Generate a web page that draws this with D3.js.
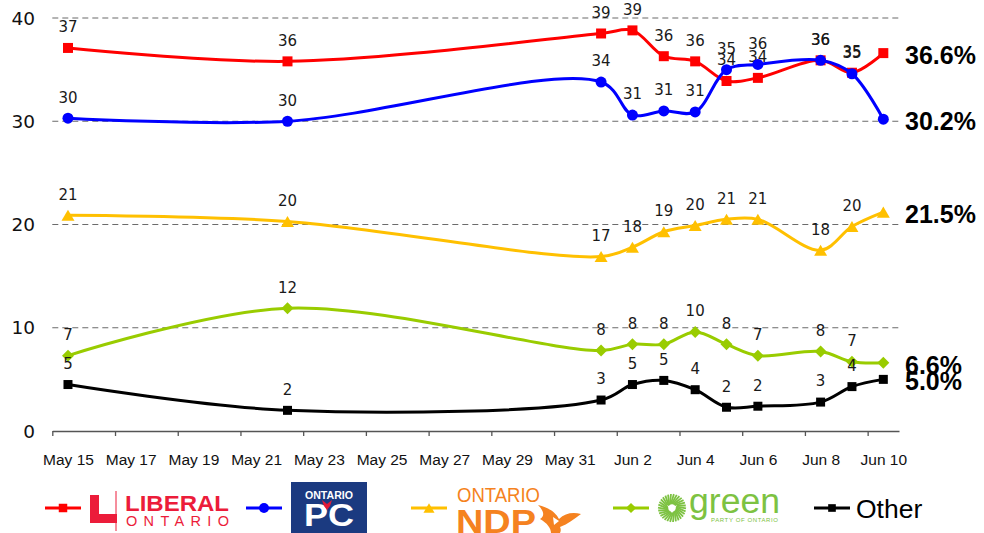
<!DOCTYPE html>
<html>
<head>
<meta charset="utf-8">
<script src="https://cdn.jsdelivr.net/npm/d3@7"></script>
<style>
  body { margin: 0; background: #fff; }
  svg { display: block; }
</style>
</head>
<body>
<svg id="chart" width="984" height="533"></svg>
<script>
// poll dates (2014 Ontario election)
let dates = ["2014-05-15", "2014-05-22", "2014-06-01", "2014-06-02", "2014-06-03", "2014-06-04",
             "2014-06-05", "2014-06-06", "2014-06-08", "2014-06-09", "2014-06-10"];

let liberal = [37.1, 35.8, 38.5, 38.8, 36.3, 35.8, 33.9, 34.2, 35.9, 34.7, 36.6];
let pc      = [30.3, 30.0, 33.8, 30.6, 31.0, 30.9, 35.0, 35.5, 35.9, 34.6, 30.2];
let ndp     = [20.9, 20.3, 16.9, 17.8, 19.3, 19.9, 20.5, 20.5, 17.5, 19.8, 21.2];
let green   = [7.3, 11.9, 7.8, 8.4, 8.4, 9.6, 8.4, 7.3, 7.7, 6.7, 6.6];
let other   = [4.5, 2.0, 3.0, 4.5, 4.9, 4.0, 2.3, 2.4, 2.8, 4.3, 5.0];

let endLabels = ["36.6%", "30.2%", "21.5%", "6.6%", "5.0%"];
let yTicks = [0, 10, 20, 30, 40];
let xTickDates = ["2014-05-15", "2014-05-17", "2014-05-19", "2014-05-21", "2014-05-23", "2014-05-25",
                  "2014-05-27", "2014-05-29", "2014-05-31", "2014-06-02", "2014-06-04", "2014-06-06",
                  "2014-06-08", "2014-06-10"];

let parse = d3.timeParse("%Y-%m-%d");
let fmt = d3.timeFormat("%b %-d");

let series = [
    {name: "liberal", values: liberal, color: "#FF0000", marker: "square", size: 10},
    {name: "pc", values: pc, color: "#0000FF", marker: "circle", size: 5.5},
    {name: "ndp", values: ndp, color: "#FFC000", marker: "triangle", size: 13},
    {name: "green", values: green, color: "#99CC00", marker: "diamond", size: 12},
    {name: "other", values: other, color: "#000000", marker: "square", size: 9}
];

let svg = d3.select("#chart");

let plotLeft = 52.3, plotRight = 899, plotTop = 18, plotBottom = 431;

let halfDay = 12 * 3600 * 1000;
let x = d3.scaleTime()
    .domain([new Date(parse("2014-05-15") - halfDay), new Date(+parse("2014-06-10") + halfDay)])
    .range([plotLeft, plotRight]);
let y = d3.scaleLinear().domain([0, 40]).range([plotBottom, plotTop]);

//gridlines
svg.append("g").selectAll("line")
    .data(yTicks.filter(d => d > 0)).enter()
    .append("line")
    .attr("x1", plotLeft).attr("x2", plotRight)
    .attr("y1", d => y(d)).attr("y2", d => y(d))
    .attr("stroke", "#6b6b6b")
    .attr("stroke-width", 1.2)
    .attr("stroke-dasharray", "6,4");

//y labels
svg.append("g").selectAll("text")
    .data(yTicks).enter()
    .append("text")
    .attr("x", 35)
    .attr("y", d => y(d))
    .attr("dy", "0.36em")
    .attr("text-anchor", "end")
    .attr("font-family", "DejaVu Sans, Verdana, sans-serif")
    .attr("font-size", 18.5)
    .attr("fill", "#111")
    .text(d => d);

//x axis: tick marks at day boundaries, labels at day centres
let tickBounds = xTickDates.map(d => new Date(parse(d) - halfDay));
let xAxisTicks = svg.append("g")
    .attr("transform", "translate(0," + plotBottom + ")")
    .call(d3.axisBottom(x).tickValues(tickBounds).tickSize(5).tickSizeOuter(0).tickFormat(""));
xAxisTicks.select(".domain").attr("stroke", "#555").attr("stroke-width", 1.3);
xAxisTicks.selectAll(".tick line").attr("stroke", "#555").attr("stroke-width", 1.3);

let xAxisLabels = svg.append("g")
    .attr("transform", "translate(0," + plotBottom + ")")
    .call(d3.axisBottom(x).tickValues(xTickDates.map(parse)).tickSize(0).tickPadding(23).tickFormat(fmt));
xAxisLabels.select(".domain").remove();
xAxisLabels.selectAll("text")
    .attr("font-family", "Liberation Sans, Arial, sans-serif")
    .attr("font-size", 15.5)
    .attr("fill", "#111");

//lines
let line = d3.line()
    .x(d => x(d.date))
    .y(d => y(d.value))
    .curve(d3.curveCatmullRom.alpha(0.5));

function markerPath(type, size) {
    if (type === "square") return "M" + (-size / 2) + "," + (-size / 2) + "h" + size + "v" + size + "h" + (-size) + "Z";
    if (type === "circle") return d3.symbol().type(d3.symbolCircle).size(Math.PI * size * size)();
    if (type === "triangle") {
        let h = size * 0.85;
        return "M0," + (-h / 2) + "L" + (size / 2) + "," + (h / 2) + "L" + (-size / 2) + "," + (h / 2) + "Z";
    }
    if (type === "diamond") return "M0," + (-size / 2) + "L" + (size / 2) + ",0L0," + (size / 2) + "L" + (-size / 2) + ",0Z";
}

series.forEach(function (s, i) {
    let pts = s.values.map((v, j) => ({date: parse(dates[j]), value: v}));
    let g = svg.append("g");
    g.append("path")
        .datum(pts)
        .attr("d", line)
        .attr("fill", "none")
        .attr("stroke", s.color)
        .attr("stroke-width", 3);
    g.selectAll(".mk")
        .data(pts).enter()
        .append("path")
        .attr("transform", d => "translate(" + x(d.date) + "," + y(d.value) + ")")
        .attr("d", markerPath(s.marker, s.size))
        .attr("fill", s.color);
    //data labels (not for the last point)
    g.selectAll(".lb")
        .data(pts.slice(0, pts.length - 1)).enter()
        .append("text")
        .attr("x", d => x(d.date))
        .attr("y", d => y(d.value) - 21)
        .attr("dy", "0.36em")
        .attr("text-anchor", "middle")
        .attr("font-family", "DejaVu Sans, Verdana, sans-serif")
        .attr("font-size", 15)
        .attr("fill", "#1a1a1a")
        .text(d => Math.round(d.value));
    //end label
    let last = pts[pts.length - 1];
    svg.append("text")
        .attr("x", 905)
        .attr("y", y(last.value) + 2)
        .attr("dy", "0.36em")
        .attr("font-family", "Liberation Sans, Arial, sans-serif")
        .attr("font-weight", "bold")
        .attr("font-size", 25)
        .attr("fill", "#000")
        .text(endLabels[i]);
});

//legend
let legendX = [45, 246, 411, 613, 814];
let legendY = 508;
series.forEach(function (s, i) {
    let g = svg.append("g").attr("transform", "translate(" + legendX[i] + "," + legendY + ")");
    g.append("line").attr("x1", 0).attr("x2", 36).attr("stroke", s.color).attr("stroke-width", 3);
    g.append("path").attr("transform", "translate(18,0)")
        .attr("d", markerPath(s.marker, s.marker === "circle" ? 5 : s.size * 0.85))
        .attr("fill", s.color);
});

//Liberal logo
let lib = svg.append("g");
lib.append("path")
    .attr("d", "M90,495 h9 v19 h18 v9 h-27 Z")
    .attr("fill", "#EC1C3A");
lib.append("line").attr("x1", 116).attr("x2", 116).attr("y1", 491).attr("y2", 531)
    .attr("stroke", "#EC1C3A").attr("stroke-width", 1);
lib.append("text").attr("x", 125).attr("y", 510.5)
    .attr("font-family", "Liberation Sans, Arial, sans-serif").attr("font-weight", "bold")
    .attr("font-size", 21.5).attr("fill", "#EC1C3A")
    .attr("textLength", 104).attr("lengthAdjust", "spacingAndGlyphs").text("LIBERAL");
lib.append("text").attr("x", 126).attr("y", 526)
    .attr("font-family", "Liberation Sans, Arial, sans-serif")
    .attr("font-size", 14.5).attr("fill", "#EC1C3A")
    .attr("textLength", 103).attr("lengthAdjust", "spacing").text("ONTARIO");

//PC logo
let pcl = svg.append("g");
pcl.append("rect").attr("x", 291).attr("y", 482).attr("width", 76).attr("height", 51).attr("fill", "#1B3A80");
pcl.append("text").attr("x", 305).attr("y", 498.5)
    .attr("font-family", "Liberation Sans, Arial, sans-serif").attr("font-weight", "bold")
    .attr("font-size", 10.5).attr("fill", "#fff")
    .attr("textLength", 48).attr("lengthAdjust", "spacingAndGlyphs").text("ONTARIO");
pcl.append("text").attr("x", 304).attr("y", 525.5)
    .attr("font-family", "Liberation Sans, Arial, sans-serif").attr("font-weight", "bold")
    .attr("font-size", 31).attr("fill", "#fff")
    .attr("textLength", 50).attr("lengthAdjust", "spacingAndGlyphs").text("PC");
pcl.append("path")
    .attr("d", "M322,500 L327,504 L332,500 L330,506 L327,510 L324,506 Z")
    .attr("fill", "#E31937");

//NDP logo
let ndpl = svg.append("g");
ndpl.append("text").attr("x", 457).attr("y", 502)
    .attr("font-family", "Liberation Sans, Arial, sans-serif")
    .attr("font-size", 20).attr("fill", "#F58220")
    .attr("textLength", 83).attr("lengthAdjust", "spacingAndGlyphs").text("ONTARIO");
ndpl.append("text").attr("x", 456).attr("y", 533)
    .attr("font-family", "Liberation Sans, Arial, sans-serif").attr("font-weight", "bold")
    .attr("font-size", 33).attr("fill", "#F58220")
    .attr("textLength", 80).attr("lengthAdjust", "spacingAndGlyphs").text("NDP");
ndpl.append("path")
    .attr("d", "M538,505 C550,508 556,513 559,519 C565,513 573,512 581,514 C574,519 568,524 560,527 C561,529 561,531 560,533 L551,533 C551,528 547,523 540,519 C545,516 544,511 538,505 Z")
    .attr("fill", "#F58220");
ndpl.append("path").attr("d", "M553,517 L559,521 L554,525 Z").attr("fill", "#fff");

//Green logo
let gl = svg.append("g").attr("transform", "translate(672,508)");
gl.selectAll("line")
    .data(d3.range(30)).enter()
    .append("line")
    .attr("x1", d => 4 * Math.cos(d * Math.PI / 15))
    .attr("y1", d => 4 * Math.sin(d * Math.PI / 15))
    .attr("x2", d => 14 * Math.cos(d * Math.PI / 15 + 0.45))
    .attr("y2", d => 14 * Math.sin(d * Math.PI / 15 + 0.45))
    .attr("stroke", "#7DC242").attr("stroke-width", 1.8);
gl.append("path").attr("d", "M-5,-3 L0,0 L5,-3 L0,5 Z").attr("fill", "#fff");
svg.append("text").attr("x", 689).attr("y", 513)
    .attr("font-family", "Liberation Sans, Arial, sans-serif")
    .attr("font-size", 35).attr("fill", "#7DC242")
    .attr("textLength", 91).attr("lengthAdjust", "spacingAndGlyphs").text("green");
svg.append("text").attr("x", 711).attr("y", 522)
    .attr("font-family", "Liberation Sans, Arial, sans-serif")
    .attr("font-size", 6).attr("fill", "#7DC242")
    .attr("textLength", 67).attr("lengthAdjust", "spacing").text("PARTY OF ONTARIO");

//Other
svg.append("text").attr("x", 856).attr("y", 517.5)
    .attr("font-family", "Liberation Sans, Arial, sans-serif")
    .attr("font-size", 26.5).attr("fill", "#000")
    .text("Other");
</script>
</body>
</html>
